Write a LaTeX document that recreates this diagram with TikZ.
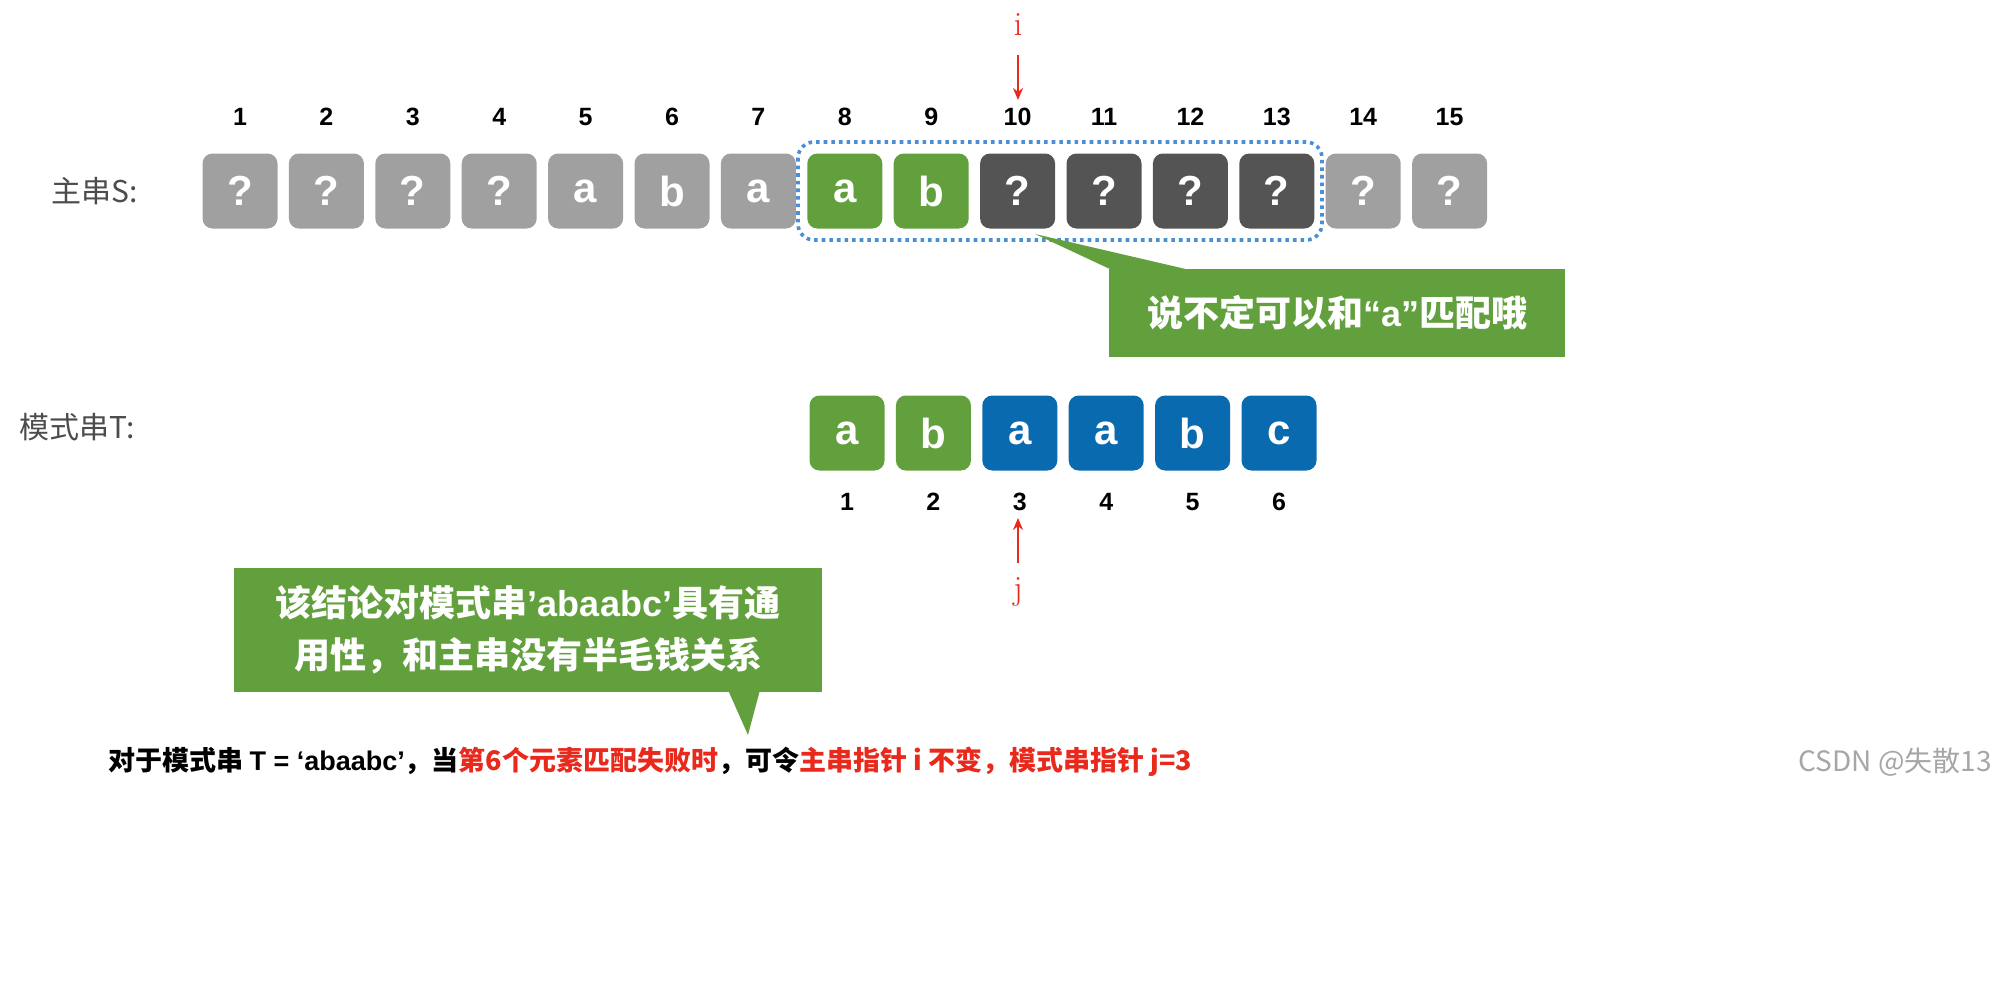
\documentclass[tikz,border=0pt]{standalone}
\usepackage{fontspec}
\usetikzlibrary{arrows.meta}
\setmainfont{Noto Sans CJK SC}
\newfontfamily\lmfont{Latin Modern Roman}
\newfontfamily\lat{Liberation Sans}
\definecolor{gbox}{HTML}{A0A0A0}
\definecolor{dbox}{HTML}{545454}
\definecolor{grn}{HTML}{62A03D}
\definecolor{blu}{HTML}{0A6AB0}
\definecolor{dotb}{HTML}{4A8FD6}
\definecolor{redc}{HTML}{E8291C}
\begin{document}
\begin{tikzpicture}[x=0.5pt,y=-0.5pt,
  cell/.style={rounded corners=5pt,minimum width=37.5pt,minimum height=37.5pt,text=white,font=\lat\fontsize{21}{21}\selectfont\bfseries,inner sep=0pt},
  num/.style={font=\lat\fontsize{12.5}{12.5}\selectfont\bfseries},
  callout/.style={fill=grn,text=white,font=\fontsize{18}{26}\selectfont\bfseries,align=center,inner sep=0pt},
  ptr/.style={draw=redc,line width=1.3pt,-{Stealth[length=6pt,width=5pt]}}]
\useasboundingbox (0,0) rectangle (1998,1002);
\node[font=\fontsize{15}{15}\selectfont,text=black!70] (ls) at (95,191) {主串S:};
\node[font=\fontsize{15}{15}\selectfont,text=black!70] (lt) at (77,427) {模式串T:};
\foreach \i/\c/\t in {1/gbox/?,2/gbox/?,3/gbox/?,4/gbox/?,5/gbox/a,6/gbox/b,7/gbox/a,8/grn/a,9/grn/b,10/dbox/?,11/dbox/?,12/dbox/?,13/dbox/?,14/gbox/?,15/gbox/?}{
  \node[cell,fill=\c] (s\i) at ({240+86.4*(\i-1)},191) {\t};
  \node[num] (sn\i) at ({240+86.4*(\i-1)},117) {\i};
}
\draw[dotb,line width=1.8pt,dotted,rounded corners=8pt] (798,142) rectangle (1322,240);
\foreach \i/\c/\t in {1/grn/a,2/grn/b,3/blu/a,4/blu/a,5/blu/b,6/blu/c}{
  \node[cell,fill=\c] (p\i) at ({847+86.4*(\i-1)},433) {\t};
  \node[num] (pn\i) at ({847+86.4*(\i-1)},502) {\i};
}
\node[text=redc,font=\lmfont\fontsize{17}{17}\selectfont] (il) at (1018,25) {i};
\coordinate (itop) at (1018,55);
\draw[ptr] (itop) -- (1018,100);
\node[text=redc,font=\lmfont\fontsize{17}{17}\selectfont] (jl) at (1018,592) {j};
\coordinate (jbot) at (1018,563);
\draw[ptr] (jbot) -- (1018,518);
% callout 1
\fill[grn] (1035,234) -- (1112,270) -- (1190,270) -- cycle;
\node[callout,minimum width=228pt,minimum height=44pt] (c1) at (1337,313) {说不定可以和{\lat “a”}匹配哦};
% callout 2
\fill[grn] (728,690) -- (760,690) -- (748,735) -- cycle;
\node[callout,minimum width=294pt,minimum height=62pt] (c2) at (528,630) {该结论对模式串{\lat ’abaabc’}具有通\\用性，和主串没有半毛钱关系};
\node[anchor=west,font=\fontsize{13.5}{13.5}\selectfont\bfseries,inner sep=0pt] (bt) at (108,762) {对于模式串 {\lat T = ‘abaabc’}，当\textcolor{redc}{第6个元素匹配失败时}，可令\textcolor{redc}{主串指针 i 不变，模式串指针 j=3}};
\node[anchor=east,font=\fontsize{14}{14}\selectfont,text=black!35,inner sep=0pt] (wm) at (1992,762) {CSDN @失散13};
\end{tikzpicture}
\end{document}
